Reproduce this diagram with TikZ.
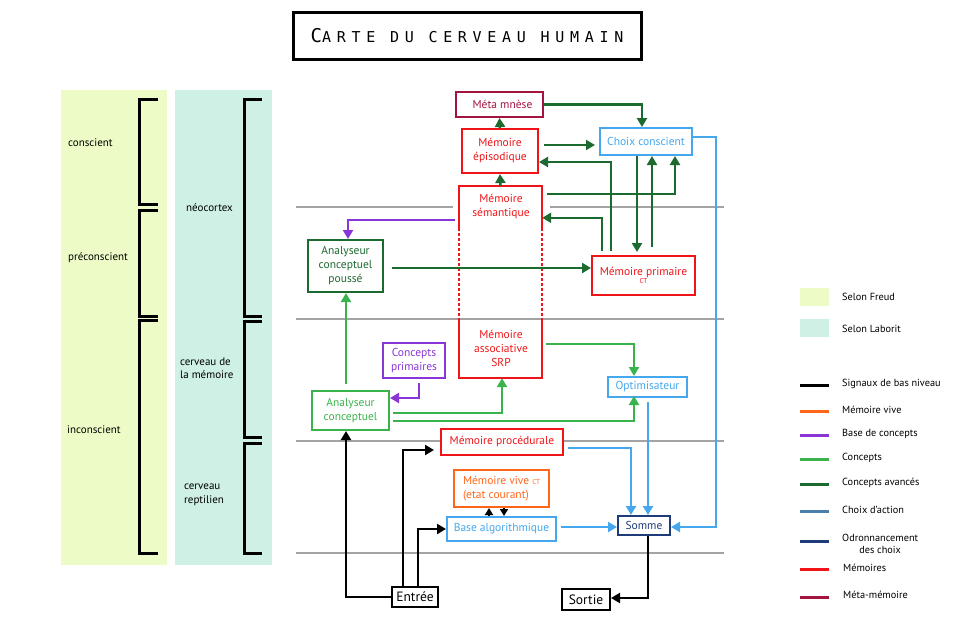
\documentclass[tikz,border=0pt]{standalone}
\usepackage{fontspec}
\setmainfont{PT Sans}
\newfontfamily\titlefont{DejaVu Sans Mono}
\usetikzlibrary{arrows.meta,calc}
\definecolor{freudbg}{HTML}{EDFCC6}
\definecolor{laboritbg}{HTML}{CFF0E4}
\definecolor{cRed}{HTML}{F01418}
\definecolor{cMeta}{HTML}{A3143F}
\definecolor{cLBlue}{HTML}{45A8EE}
\definecolor{cDGreen}{HTML}{1B6A2F}
\definecolor{cGreen}{HTML}{3BB34C}
\definecolor{cPurple}{HTML}{8A35D8}
\definecolor{cOrange}{HTML}{FF661A}
\definecolor{cNavy}{HTML}{1E3C7A}
\definecolor{cSteel}{HTML}{4A7EAB}
\definecolor{cGray}{HTML}{A3A3A3}
\begin{document}
\begin{tikzpicture}[x=1pt,y=-1pt,
  box/.style={draw=#1, text=#1, line width=2pt, fill=white, inner sep=0pt, align=center,
    font=\fontsize{11.5}{14}\selectfont},
  conn/.style={line width=2.5pt, -{Triangle[length=9pt,width=10pt]}},
  dg/.style={conn, cDGreen},
  gr/.style={conn, cGreen},
  pu/.style={conn, cPurple},
  lb/.style={conn, cLBlue},
  bk/.style={conn, black},
  grayline/.style={line width=2.5pt, cGray},
  brk/.style={line width=3pt, black},
  lbl/.style={font=\fontsize{11}{13.5}\selectfont, align=left, inner sep=0pt},
  lgtext/.style={font=\fontsize{10.3}{12.5}\selectfont, anchor=west, inner sep=0pt, align=center},
  lgline/.style={line width=3pt},
  memline/.style={line width=2pt, cRed}
]
\useasboundingbox (0,0) rectangle (962,622);

% title
\node[draw, line width=3pt, minimum width=348pt, minimum height=47pt, inner sep=0pt] (title) at (467,36)
  {\titlefont\addfontfeature{LetterSpace=38}\fontsize{19}{19}\selectfont C\fontsize{15}{15}\selectfont ARTE DU CERVEAU HUMAIN};

% background columns
\fill[freudbg] (61,90) rectangle (167,565);
\fill[laboritbg] (175,90) rectangle (272,565);

% Freud brackets
\draw[brk] (158,99) -- (139,99) -- (139,204) -- (158,204);
\draw[brk] (158,210) -- (139,210) -- (139,316) -- (158,316);
\draw[brk] (158,320) -- (139,320) -- (139,553) -- (158,553);
% Laborit brackets
\draw[brk] (262,99) -- (244,99) -- (244,316) -- (262,316);
\draw[brk] (262,321) -- (244,321) -- (244,437) -- (262,437);
\draw[brk] (262,443) -- (244,443) -- (244,553) -- (262,553);

\node[lbl, anchor=west] (lconscient) at (68,143) {conscient};
\node[lbl, anchor=west] (lpreconscient) at (68,258) {préconscient};
\node[lbl, anchor=west] (linconscient) at (67,430) {inconscient};
\node[lbl, anchor=west] (lneocortex) at (186,208) {néocortex};
\node[lbl, anchor=west] (lmemoire) at (180,368) {cerveau de\\la mémoire};
\node[lbl, anchor=west] (lreptilien) at (184,495) {cerveau\\reptilien};

% gray level lines
\draw[grayline] (296,207) -- (453,207);
\draw[grayline] (550,207) -- (724,207);
\draw[grayline] (296,319) -- (724,319);
\draw[grayline] (296,441) -- (724,441);
\draw[grayline] (296,553) -- (724,553);

% memory column box
\node[minimum width=83pt, minimum height=192pt, inner sep=0pt] (membox) at (500.5,282) {};
\draw[memline] ($(membox.north west)+(0,42)$) -- (membox.north west) -- (membox.north east) -- ($(membox.north east)+(0,42)$);
\draw[memline, dash pattern=on 3pt off 2pt] ($(membox.north west)+(0,42)$) -- ($(membox.south west)+(0,-58)$);
\draw[memline, dash pattern=on 3pt off 2pt] ($(membox.north east)+(0,42)$) -- ($(membox.south east)+(0,-58)$);
\draw[memline] ($(membox.south west)+(0,-58)$) -- (membox.south west) -- (membox.south east) -- ($(membox.south east)+(0,-58)$);
\node[align=center, text=cRed, inner sep=0pt, font=\fontsize{11.5}{14}\selectfont] (sem) at (501,207) {Mémoire\\sémantique};
\node[align=center, text=cRed, inner sep=0pt, font=\fontsize{11.5}{14}\selectfont] (assoc) at (501,348) {Mémoire\\associative\\SRP};

% nodes
\node[box=cMeta, minimum width=87pt, minimum height=25pt] (meta) at (499.5,104.5) {\hspace*{6pt}Méta mnèse};
\node[box=cRed, minimum width=76pt, minimum height=44pt] (epi) at (500,151) {Mémoire\\épisodique};
\node[box=cLBlue, minimum width=92pt, minimum height=27pt] (choix) at (646,141.5) {Choix conscient};
\node[box=cDGreen, minimum width=75pt, minimum height=52pt] (acp) at (345.5,266) {Analyseur\\conceptuel\\poussé};
\node[box=cRed, minimum width=103pt, minimum height=39pt] (prim) at (643.5,275.5) {Mémoire primaire\\[-6pt]{\fontsize{7}{8}\selectfont CT}};
\node[box=cPurple, minimum width=62pt, minimum height=35pt] (cprim) at (414,360.5) {Concepts\\primaires};
\node[box=cGreen, minimum width=77pt, minimum height=39pt] (ac) at (350.5,410.5) {Analyseur\\conceptuel};
\node[box=cLBlue, minimum width=79pt, minimum height=20pt] (opt) at (647.5,387) {Optimisateur};
\node[box=cRed, minimum width=122pt, minimum height=26pt] (proc) at (502,442) {Mémoire procédurale};
\node[box=cOrange, align=left, minimum width=95pt, minimum height=37pt] (vive) at (501.5,488.5) {Mémoire vive {\fontsize{7}{8}\selectfont CT}\\(etat courant)};
\node[box=cLBlue, minimum width=109pt, minimum height=24pt] (base) at (501.5,529) {Base algorithmique};
\node[box=cNavy, minimum width=52pt, minimum height=19pt] (somme) at (644,525.5) {Somme};
\node[box=black, font=\fontsize{13.5}{15}\selectfont, minimum width=46pt, minimum height=20pt] (entree) at (415,597) {Entrée};
\node[box=black, font=\fontsize{13.5}{15}\selectfont, minimum width=48pt, minimum height=21pt] (sortie) at (586,599.5) {Sortie};

% dark green connectors (concepts avancés)
\draw[dg] (meta.east) -| ($(choix.north)+(-4,0)$);
\draw[dg] (epi.north) -- (meta.south);
\draw[dg, shorten <=5pt, shorten >=4pt] ($(epi.east)+(0,-6)$) -- ($(choix.west)+(0,3.5)$);
\draw[dg, shorten <=4pt] ($(prim.north west)+(20,0)$) |- ($(epi.east)+(0,11)$);
\draw[dg] (membox.north) -- (epi.south);
\draw[dg, shorten <=5pt] ($(membox.north east)+(0,8)$) -| ($(choix.south)+(29,0)$);
\draw[dg, shorten >=3pt] ($(choix.south)+(-9,0)$) -- ($(prim.north)+(-6.5,0)$);
\draw[dg, shorten <=8pt] ($(prim.north)+(8.5,0)$) -- ($(choix.south)+(6,0)$);
\draw[dg, shorten <=4pt] ($(prim.north west)+(11,0)$) |- ($(membox.north east)+(0,32)$);
\draw[dg, shorten <=8pt] ($(acp.east)+(0,2)$) -- ($(prim.west)+(0,-7.5)$);

% purple connectors (base de concepts)
\draw[pu] ($(membox.north west)+(-4,34)$) -| ($(acp.north)+(2.5,0)$);
\draw[pu, shorten <=4pt] ($(cprim.south)+(5,0)$) |- ($(ac.east)+(0,-12.5)$);

% green connectors (concepts)
\draw[gr, shorten <=6pt] ($(ac.north)+(-4.5,0)$) -- ($(acp.south)+(0.5,0)$);
\draw[gr, shorten <=3pt] ($(ac.east)+(0,2.5)$) -| ($(membox.south)+(1.5,0)$);
\draw[gr, shorten <=3pt] ($(ac.east)+(0,10.5)$) -| ($(opt.north)+(-13.5,20)$);
\draw[gr, shorten <=4pt] ($(membox.east)+(0,62)$) -| ($(opt.north)+(-13.5,0)$);

% light blue connectors (choix d'action)
\draw[lb, shorten <=4pt] ($(proc.east)+(0,6)$) -| ($(somme.north)+(-13,0)$);
\draw[lb, shorten <=4pt] ($(opt.south)+(0.5,0)$) -- ($(somme.north)+(4,0)$);
\draw[lb, shorten <=4pt] ($(base.east)+(0,-2)$) -- ($(somme.west)+(0,1.5)$);
\coordinate (rightbus) at (716,137);
\draw[lb] ($(choix.east)+(0,-4.5)$) -- (rightbus) |- ($(somme.east)+(0,1.5)$);

% black connectors (signaux de bas niveau)
\draw[bk] (entree.west) -| ($(ac.south)+(-4.5,0)$);
\draw[bk, shorten >=6pt] ($(entree.north)+(-12,0)$) |- ($(proc.west)+(0,8)$);
\draw[bk] ($(entree.north)+(3,0)$) |- (base.west);
\draw[bk, line width=2pt, -{Triangle[length=7pt,width=8pt]}] ($(base.north)+(-12.5,0)$) -- ($(vive.south)+(-12.5,0)$);
\draw[bk, line width=2pt, -{Triangle[length=7pt,width=8pt]}] ($(vive.south)+(2.5,0)$) -- ($(base.north)+(2.5,0)$);
\draw[bk] ($(somme.south)+(4,0)$) |- ($(sortie.east)+(0,-1.5)$);

% legend
\fill[freudbg] (800,288) rectangle (829,306);
\node[lgtext] (lgfreud) at (842,297) {Selon Freud};
\fill[laboritbg] (800,319) rectangle (829,337);
\node[lgtext] (lglaborit) at (842,329) {Selon Laborit};
\draw[lgline, black] (800,385) -- (829,385);
\node[lgtext] (lgsig) at (842,384) {Signaux de bas niveau};
\draw[lgline, cOrange] (800,411) -- (829,411);
\node[lgtext] (lgvive) at (842,410) {Mémoire vive};
\draw[lgline, cPurple] (800,435) -- (829,435);
\node[lgtext] (lgbase) at (842,434) {Base de concepts};
\draw[lgline, cGreen] (800,459) -- (829,459);
\node[lgtext] (lgconc) at (842,458) {Concepts};
\draw[lgline, cDGreen] (800,484) -- (829,484);
\node[lgtext] (lgconcav) at (842,483) {Concepts avancés};
\draw[lgline, cSteel] (800,511) -- (829,511);
\node[lgtext] (lgchoix) at (842,510) {Choix d'action};
\draw[lgline, cNavy] (800,541) -- (829,541);
\node[lgtext] (lgordo) at (842,544) {Odronnancement\\des choix};
\draw[lgline, cRed] (800,569) -- (829,569);
\node[lgtext] (lgmem) at (843,568) {Mémoires};
\draw[lgline, cMeta] (800,597) -- (829,597);
\node[lgtext] (lgmeta) at (843,595) {Méta-mémoire};
\end{tikzpicture}
\end{document}
